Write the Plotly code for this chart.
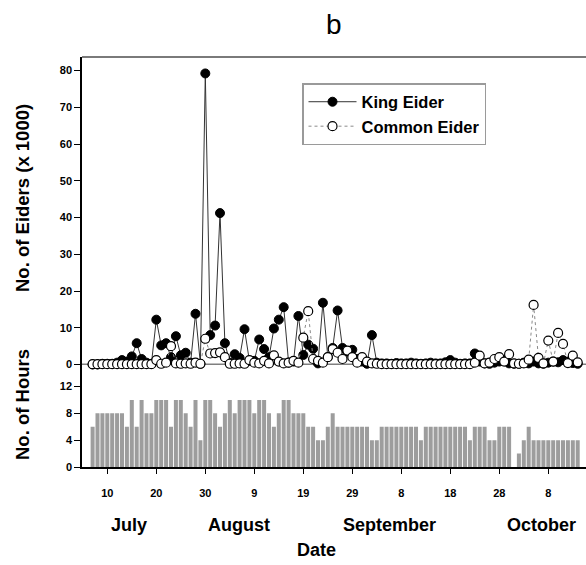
import pandas as pd
import plotly.graph_objects as go

# ---------------- data ----------------
dates = pd.date_range("2008-07-07", "2008-10-14", freq="D")

hours_jul = [6, 8, 8, 8, 8, 8, 8, 6, 10, 6, 10, 8, 8, 10, 10, 10, 6, 10, 10, 8, 6, 10, 4, 10, 10]
hours_aug = [8, 6, 8, 10, 8, 10, 10, 10, 8, 10, 10, 8, 6, 8, 10, 10, 8, 8, 8, 6, 6, 4, 4, 6, 8,
             6, 6, 6, 6, 6, 6]
hours_sep = [6, 4, 4, 6, 6, 6, 6, 6, 6, 6, 6, 4, 6, 6, 6, 6, 6, 6, 6, 6, 6, 4, 6, 6, 6, 4, 4,
             6, 6, 6]
hours_oct = [0, 2, 4, 6, 4, 4, 4, 4, 4, 4, 4, 4, 4, 4]

king_jul = [0, 0, 0.2, 0.2, 0.2, 0.5, 1.2, 0.8, 2.2, 5.8, 1.5, 0.5, 0.2, 12.2, 5.2, 5.8, 2.0,
            7.7, 2.5, 3.2, 0.5, 13.8, 0.2, 79.2, 8.0]
king_aug = [10.6, 41.2, 5.8, 0.5, 2.8, 1.8, 9.6, 1.0, 1.0, 6.8, 4.2, 2.0, 9.8, 12.2, 15.6, 0.5,
            0.8, 13.2, 2.6, 5.4, 4.3, 0.3, 16.8, 2.0, 4.5, 14.7, 4.5, 3.5, 4.0, 1.5, 0.8]
king_sep = [0.2, 8.0, 0.5, 0.3, 0.3, 0.2, 0.4, 0.3, 0.3, 0.5, 0.3, 0.2, 0.3, 0.5, 0.3, 0.3, 0.6,
            1.2, 0.5, 0.2, 0.3, 0.3, 3.0, 0.8, 0.3, 0.2, 0.5, 0.8, 1.2, 0.3]
king_oct = [0.2, 0.2, 0.5, 0.3, 0.8, 0.3, 0.2, 0.5, 0.8, 0.6, 1.2, 0.8, 0.4, 0.2]

common_jul = [0.1, 0.1, 0.1, 0.1, 0.1, 0.1, 0.1, 0.1, 0.1, 0.1, 0.1, 0.1, 0.1, 1.2, 0.2, 0.5,
              5.0, 0.3, 0.2, 0.3, 0.2, 0.5, 0.2, 7.0, 3.0]
common_aug = [3.1, 3.3, 2.0, 0.2, 0.2, 0.3, 0.2, 1.2, 0.5, 0.3, 1.0, 0.3, 2.5, 0.8, 0.3, 0.5,
              1.0, 0.5, 7.3, 14.5, 1.5, 1.0, 0.5, 2.0, 4.2, 3.2, 1.5, 3.8, 2.0, 0.5, 2.0]
common_sep = [0.8, 0.3, 0.2, 0.1, 0.1, 0.1, 0.1, 0.1, 0.1, 0.1, 0.1, 0.1, 0.1, 0.1, 0.1, 0.1,
              0.1, 0.1, 0.1, 0.1, 0.1, 0.1, 0.5, 2.4, 0.3, 0.5, 1.5, 2.0, 0.8, 2.8]
common_oct = [0.3, 0.2, 0.3, 1.3, 16.2, 1.8, 0.3, 6.5, 0.8, 8.6, 5.6, 0.4, 2.4, 0.6]

hours = hours_jul + hours_aug + hours_sep + hours_oct
king = king_jul + king_aug + king_sep + king_oct
common = common_jul + common_aug + common_sep + common_oct

tick_dates = ["2008-07-10", "2008-07-20", "2008-07-30", "2008-08-09", "2008-08-19",
              "2008-08-29", "2008-09-08", "2008-09-18", "2008-09-28", "2008-10-08"]
tick_text = ["10", "20", "30", "9", "19", "29", "8", "18", "28", "8"]
months = ["July", "August", "September", "October"]
eider_ticks = [0, 10, 20, 30, 40, 50, 60, 70, 80]
hour_ticks = [0, 4, 8, 12]

# ---------------- figure ----------------
FONT = "Liberation Sans"


def bold(s):
    return dict(family=FONT, size=s, color="black", weight="bold")


fig = go.Figure()
fig.add_trace(go.Bar(x=dates, y=hours, marker=dict(color="#9d9d9d", line=dict(width=0)),
                     yaxis="y2", showlegend=False))
fig.add_trace(go.Scatter(x=dates, y=king, name="King Eider", mode="lines+markers",
                         line=dict(color="#333333", width=1),
                         marker=dict(size=9, color="black", line=dict(color="black", width=1)),
                         cliponaxis=False))
fig.add_trace(go.Scatter(x=dates, y=common, name="Common Eider", mode="lines+markers",
                         line=dict(color="#8a8a8a", width=1, dash="dot"),
                         marker=dict(size=9, color="white", line=dict(color="black", width=1.2)),
                         cliponaxis=False))

x0 = pd.Timestamp("2008-07-10") - pd.Timedelta(days=25.3 / 4.9)
x1 = pd.Timestamp("2008-07-10") + pd.Timedelta(days=(586 - 107.3) / 4.9)

fig.update_layout(
    width=586, height=565,
    margin=dict(l=82, r=0, t=57, b=98),
    paper_bgcolor="white", plot_bgcolor="white",
    bargap=0.18,
    font=dict(family=FONT, color="black"),
    xaxis=dict(type="date", range=[x0, x1], anchor="y2", showline=True, linecolor="black",
               linewidth=1.5, ticks="outside", ticklen=5, tickcolor="black",
               tickvals=tick_dates, ticktext=tick_text, tickfont=bold(11),
               ticklabelstandoff=10, showgrid=False, zeroline=False),
    yaxis=dict(domain=[0.25, 1], range=[0, (364.5 - 57) / 3.675], showline=True,
               linecolor="black", linewidth=1.5, ticks="outside", ticklen=6, tickcolor="black",
               tickvals=eider_ticks, tickfont=bold(11), showgrid=False, zeroline=False),
    yaxis2=dict(domain=[0, 0.25], range=[0, 102.5 / 6.71], showline=True, linecolor="black",
                linewidth=1.5, ticks="outside", ticklen=6, tickcolor="black",
                tickvals=hour_ticks, tickfont=bold(11), showgrid=False, zeroline=False),
    legend=dict(x=(302 - 82) / 504, y=(467 - 83) / 410, xanchor="left", yanchor="top",
                bordercolor="#9a9a9a", borderwidth=1.5, bgcolor="white", font=bold(16.5),
                itemwidth=48, tracegroupgap=0),
    showlegend=True,
)

fig.add_shape(type="line", xref="paper", yref="y", x0=0, x1=1, y0=0, y1=0,
              line=dict(color="black", width=1.5), layer="below")
fig.add_shape(type="line", xref="paper", yref="paper", x0=0, x1=1, y0=1, y1=1,
              line=dict(color="#7a7a7a", width=2))

ann = []
ann.append(dict(text="b", xref="paper", yref="paper", x=0.5, y=(467 - 25) / 410,
                showarrow=False, font=dict(family=FONT, size=28, color="black"),
                xanchor="center", yanchor="middle"))
month_x = [129, 239, 389, 541]
for m, px in zip(months, month_x):
    ann.append(dict(text=m, xref="paper", yref="paper", x=(px - 82) / 504,
                    y=(467 - 525) / 410, showarrow=False, font=bold(18),
                    xanchor="center", yanchor="middle"))
ann.append(dict(text="Date", xref="paper", yref="paper", x=(316 - 82) / 504,
                y=(467 - 550) / 410, showarrow=False, font=bold(18),
                xanchor="center", yanchor="middle"))
ann.append(dict(text="No. of Eiders (x 1000)", xref="paper", yref="paper",
                x=(22 - 82) / 504, y=(467 - 198) / 410, textangle=-90, showarrow=False,
                font=bold(18.5), xanchor="center", yanchor="middle"))
ann.append(dict(text="No. of Hours", xref="paper", yref="paper",
                x=(22 - 82) / 504, y=(467 - 405) / 410, textangle=-90, showarrow=False,
                font=bold(18.5), xanchor="center", yanchor="middle"))
fig.update_layout(annotations=ann)

fig.write_html("out.html")
